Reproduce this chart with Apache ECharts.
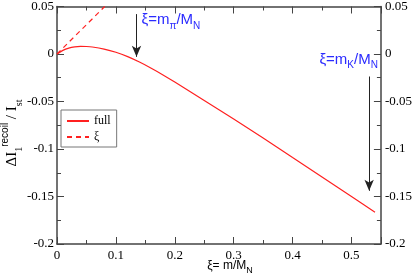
<!DOCTYPE html>
<html><head><meta charset="utf-8">
<script src="https://cdn.jsdelivr.net/npm/echarts@6/dist/echarts.min.js"></script>
<style>html,body{margin:0;padding:0;background:#fff}#c{width:415px;height:277px}</style>
</head><body><div id="c"></div>
<script>
// data
var xi = [0, 0.01, 0.02, 0.03, 0.04, 0.05, 0.06, 0.08, 0.1, 0.12, 0.14, 0.16, 0.18, 0.2, 0.25, 0.3, 0.35, 0.4, 0.45, 0.5, 0.54];
var full = [0, 0.0038, 0.0062, 0.0075, 0.0080, 0.0079, 0.0074, 0.0052, 0.0018, -0.0028, -0.0085, -0.0150, -0.0220, -0.0295, -0.0490, -0.0685, -0.0885, -0.1090, -0.1295, -0.1500, -0.1665];
var xiLinX = [0, 0.081];
var xiLinY = [0, 0.05];
var arrowPi = {x: 0.135, y0: 0.042, y1: -0.003};
var arrowK = {x: 0.53, y0: -0.0237, y1: -0.144};
var xTicks = [0, 0.1, 0.2, 0.3, 0.4, 0.5];
var yTicks = [-0.2, -0.15, -0.1, -0.05, 0, 0.05];

var serif = 'Liberation Serif';
var sans = 'Liberation Sans';
var axisCol = '#444';

function pairs(a, b){ return a.map(function(v,i){return [v,b[i]];}); }

var chart = echarts.init(document.getElementById('c'), null, {renderer:'canvas'});
function fmt(v){ var r = Math.round(v*1000)/1000; return r === 0 ? '0' : String(r); }
var xCommon = {
  type:'value', min:0, max:0.55, interval:0.1,
  axisLine:{show:true, onZero:false, lineStyle:{color:axisCol, width:1.5}},
  axisTick:{show:true, inside:true, length:7, lineStyle:{color:axisCol, width:1}},
  minorTick:{show:true, splitNumber:2, length:4, lineStyle:{color:axisCol}},
  splitLine:{show:false}
};
var yCommon = {
  type:'value', min:-0.2, max:0.05, interval:0.05,
  axisLine:{show:true, onZero:false, lineStyle:{color:axisCol, width:1.5}},
  axisTick:{show:true, inside:true, length:7, lineStyle:{color:axisCol, width:1}},
  minorTick:{show:true, splitNumber:2, length:4, lineStyle:{color:axisCol}},
  splitLine:{show:false}
};
var option = {
  animation:false,
  grid:{left:57, right:32, top:5, bottom:33},
  xAxis:[
    Object.assign({}, xCommon, {position:'bottom',
      axisLabel:{show:true, margin:5, fontFamily:serif, fontSize:13, color:'#000',
        formatter:function(v){ return xTicks.indexOf(Math.round(v*10)/10)>=0 ? fmt(v) : ''; }}}),
    Object.assign({}, xCommon, {position:'top', axisLabel:{show:false}})
  ],
  yAxis:[
    Object.assign({}, yCommon, {position:'left',
      axisLabel:{show:true, margin:3, fontFamily:serif, fontSize:13, color:'#000', formatter:fmt}}),
    Object.assign({}, yCommon, {position:'right',
      axisLabel:{show:true, margin:4, fontFamily:serif, fontSize:13, color:'#000', formatter:fmt}})
  ],
  legend:{
    left:61, top:110, orient:'vertical', itemWidth:22, itemHeight:10, itemGap:4,
    padding:[5,6,4,5], borderColor:'#777', borderWidth:1, backgroundColor:'#fff',
    textStyle:{fontFamily:serif, fontSize:12, color:'#000'},
    itemStyle:{opacity:0},
    data:['full','ξ']
  },
  series:[
    {name:'full', type:'line', data:pairs(xi, full), smooth:0.2, symbol:'none',
     lineStyle:{color:'#ff2020', width:1.2}, itemStyle:{color:'#ff2020'}, z:3,
     markLine:{silent:true, symbol:['none','arrow'], symbolSize:[7,11],
       label:{show:false}, lineStyle:{color:'#222', width:1, type:'solid'},
       data:[
         [{coord:[arrowPi.x, arrowPi.y0]},{coord:[arrowPi.x, arrowPi.y1]}],
         [{coord:[arrowK.x, arrowK.y0]},{coord:[arrowK.x, arrowK.y1]}]
       ]}},
    {name:'ξ', type:'line', data:pairs(xiLinX, xiLinY), symbol:'none',
     lineStyle:{color:'#ff2020', width:1.2, type:[5,4]}, itemStyle:{color:'#ff2020'}}
  ]
};
chart.setOption(option);

var blue = '#2a2aff';
var annRich = {
  m:{fontFamily:sans, fontSize:15, fill:blue, lineHeight:22, verticalAlign:'middle'},
  sub:{fontFamily:sans, fontSize:10, fill:blue, lineHeight:10, verticalAlign:'bottom'}
};
var p1 = chart.convertToPixel({xAxisIndex:0, yAxisIndex:0}, [arrowPi.x, 0.05]);
var p2 = chart.convertToPixel({xAxisIndex:0, yAxisIndex:0}, [0.55, 0]);
var axRich = {
  m:{fontFamily:sans, fontSize:12, fill:'#000', lineHeight:18, verticalAlign:'middle'},
  sub:{fontFamily:sans, fontSize:9, fill:'#000', lineHeight:9, verticalAlign:'bottom'}
};
var yRich = {
  m:{fontFamily:serif, fontSize:15, fill:'#000', lineHeight:24, verticalAlign:'middle'},
  sub:{fontFamily:serif, fontSize:10, fill:'#000', lineHeight:10, verticalAlign:'bottom'},
  sup:{fontFamily:sans, fontSize:10, fill:'#000', lineHeight:10, verticalAlign:'top'}
};
chart.setOption({graphic:[
  {type:'text', left:p1[0]+5, top:p1[1]+6, z:10,
   style:{text:'{m|ξ=m}{sub|π}{m|/M}{sub|N}', rich:annRich, fill:blue}},
  {type:'text', right:415-p2[0]+3, top:p2[1]-2, z:10,
   style:{text:'{m|ξ=m}{sub|K}{m|/M}{sub|N}', rich:annRich, fill:blue}},
  {type:'text', x:230, y:266, z:10,
   style:{text:'{m|ξ= m/M}{sub|N}', rich:axRich, align:'center', verticalAlign:'middle'}},
  {type:'text', x:12, y:133, rotation:Math.PI/2, z:10,
   style:{text:'{m|ΔI}{sub|1}{sup|recoil}{m| / I}{sub|st}', rich:yRich, align:'center', verticalAlign:'middle'}}
]});
</script></body></html>
